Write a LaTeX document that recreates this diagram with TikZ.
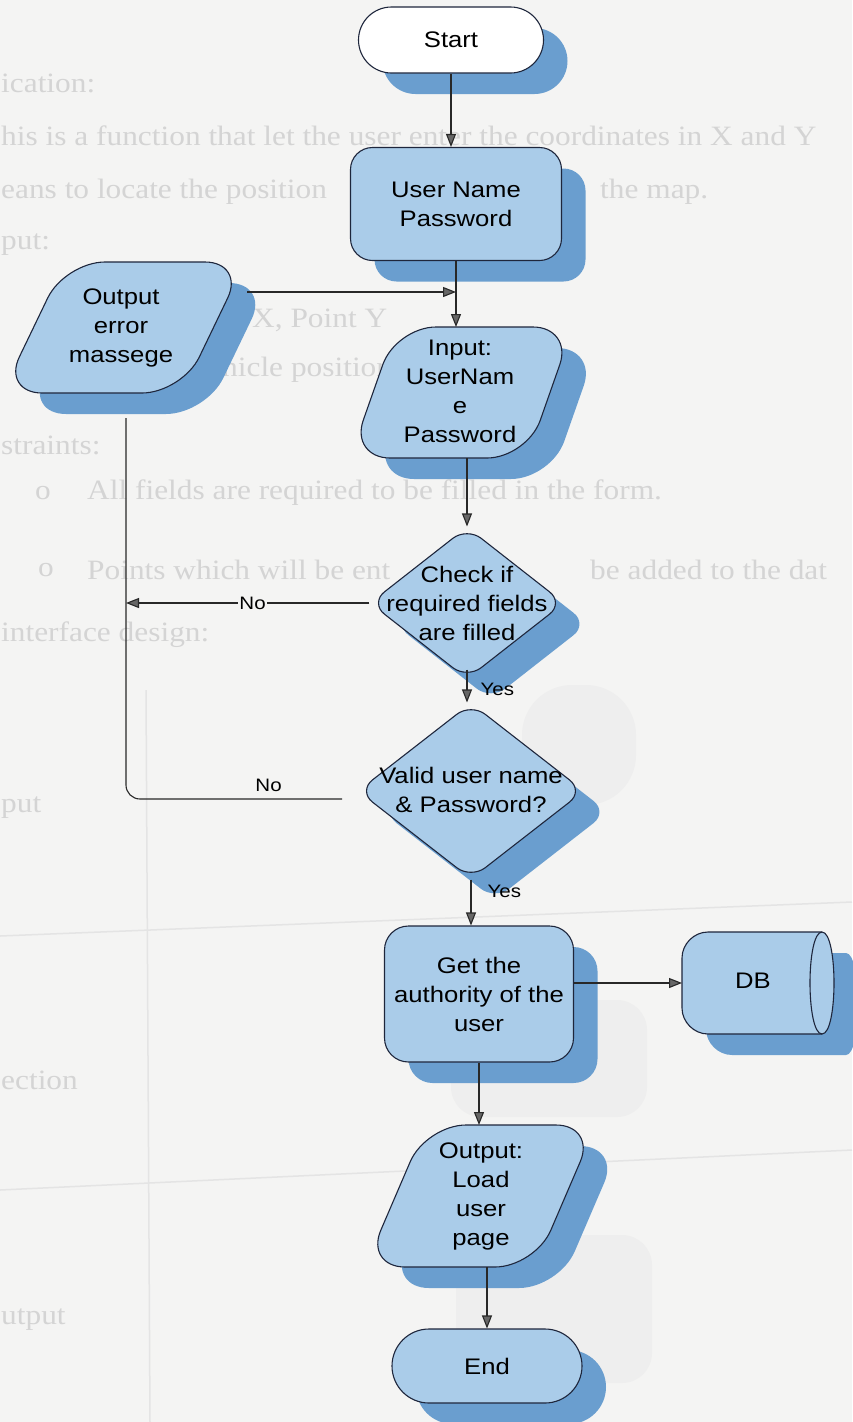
\documentclass[tikz,border=0pt]{standalone}
\usepackage{fontspec}
\setmainfont{Liberation Sans}
\newfontfamily\flowfont[FakeStretch=1.14]{Liberation Sans}
\newfontfamily\pagefont[FakeStretch=1.12]{Liberation Serif}
\usetikzlibrary{shapes.geometric,shadows,arrows.meta,calc}

\definecolor{pagebg}{RGB}{244,244,243}
\definecolor{ghostink}{RGB}{212,212,212}
\definecolor{ghostfill}{RGB}{238,238,238}
\definecolor{ghostrule}{RGB}{228,228,228}
\definecolor{boxfill}{RGB}{170,204,233}
\definecolor{boxshade}{RGB}{106,158,207}
\definecolor{boxedge}{RGB}{30,38,60}
\definecolor{wireink}{RGB}{40,40,40}

% slanted input/output box: centre x, centre y, width, height, slant
\newcommand\slantbox[5]{%
  \fill[boxshade, shift={(#1+24,#2+21)}, rounded corners=40pt]
    (-#3/2+#5,-#4/2) -- (#3/2,-#4/2) -- (#3/2-#5,#4/2) -- (-#3/2,#4/2) -- cycle;
  \filldraw[fill=boxfill, draw=boxedge, line width=1.1pt, shift={(#1,#2)}, rounded corners=40pt]
    (-#3/2+#5,-#4/2) -- (#3/2,-#4/2) -- (#3/2-#5,#4/2) -- (-#3/2,#4/2) -- cycle;
}

\begin{document}
\begin{tikzpicture}[x=1pt,y=-1pt,
  dropshade/.style={drop shadow={shadow xshift=24pt,shadow yshift=-21pt,fill=boxshade,opacity=1,draw=none}},
  box/.style={draw=boxedge,line width=1.1pt,fill=boxfill,dropshade,inner sep=0pt},
  proc/.style={box,rectangle,rounded corners=22pt},
  term/.style={box,rectangle},
  decide/.style={box,diamond,rounded corners=18pt},
  anchorbox/.style={inner sep=0pt,outer sep=0pt},
  words/.style={font=\flowfont\fontsize{22.5}{29}\selectfont,align=center,inner sep=0pt,text=black},
  tag/.style={font=\flowfont\fontsize{18}{20}\selectfont,inner sep=1pt,text=black},
  wire/.style={draw=wireink,line width=1.1pt},
  flow/.style={wire,-{Triangle[length=13pt,width=10pt,fill=black!60]}},
  ghost/.style={font=\pagefont\fontsize{28}{30}\selectfont,text=ghostink,anchor=west,inner sep=0pt},
]
% page
\fill[pagebg] (0,0) rectangle (852,1422);
\useasboundingbox (0,0) rectangle (852,1422);

% faint print showing through from the facing page
\fill[ghostfill, rounded corners=50pt] (522,685) rectangle (636,805);
\fill[ghostfill, rounded corners=30pt] (451,1000) rectangle (647,1117);
\fill[ghostfill, rounded corners=30pt] (456,1235) rectangle (652,1383);
\draw[ghostrule, line width=1.5pt] (146,690) -- (150,1422);
\draw[ghostrule, line width=1.5pt] (0,936) -- (852,902);
\draw[ghostrule, line width=1.5pt] (0,1190) -- (852,1150);

\node[ghost] (g1) at (1,83) {ication:};
\node[ghost] (g2) at (1,136) {his is a function that let the user enter the coordinates in X and Y};
\node[ghost] (g3a) at (1,192) {eans to locate the position};
\node[ghost] (g3b) at (600,192) {the map.};
\node[ghost] (g4) at (1,245) {put:};
\node[ghost] (g5) at (252,320) {X, Point Y};
\node[ghost] (g6) at (222,370) {hicle position};
\node[ghost] (g7) at (1,445) {straints:};
\node[ghost] (g8a) at (35,493) {o};
\node[ghost] (g8b) at (87,493) {All fields are required to be filled in the form.};
\node[ghost] (g9a) at (38,570) {o};
\node[ghost] (g9b) at (87,570) {Points which will be ent};
\node[ghost] (g9c) at (590,570) {be added to the dat};
\node[ghost] (g10) at (1,635) {interface design:};
\node[ghost] (g11) at (1,808) {put};
\node[ghost] (g12) at (1,1080) {ection};
\node[ghost] (g13) at (1,1320) {utput};

% flowchart shapes
\node[term, fill=white, rounded corners=33pt, minimum width=185pt, minimum height=66pt] (start) at (451,40) {};
\node[words] (start-text) at (start) {Start};

\node[proc, minimum width=211pt, minimum height=113pt] (uname) at (456,204) {};
\node[words] (uname-text) at (uname) {User Name\\Password};

\slantbox{123.5}{327.5}{243}{131}{63}
\node[anchorbox, minimum width=243pt, minimum height=131pt] (err) at (123.5,327.5) {};
\node[words] (err-text) at (121,328) {Output\\error\\massege};

\slantbox{461.5}{392.5}{223}{131}{46}
\node[anchorbox, minimum width=223pt, minimum height=131pt] (inp) at (461.5,392.5) {};
\node[words] (inp-text) at (460,391) {Input:\\UserNam\\e\\Password};

\node[decide, minimum width=194pt, minimum height=152pt] (check) at (467,603) {};
\node[words] (check-text) at (check) {Check if\\required fields\\are filled};

\node[decide, minimum width=226pt, minimum height=176pt] (valid) at (471,791) {};
\node[words] (valid-text) at (471,790) {Valid user name\\\& Password?};

\node[proc, rounded corners=24pt, minimum width=189pt, minimum height=136pt] (get) at (479,994) {};
\node[words] (get-text) at (get) {Get the\\authority of the\\user};

% database drum
\fill[boxshade, shift={(24,21)}] (822,932) -- (708,932) .. controls (694,932) and (682,944) .. (682,958) -- (682,1008) .. controls (682,1022) and (694,1034) .. (708,1034) -- (822,1034) .. controls (838,1034) and (838,932) .. (822,932) -- cycle;
\filldraw[fill=boxfill, draw=boxedge, line width=1.1pt] (822,932) -- (708,932) .. controls (694,932) and (682,944) .. (682,958) -- (682,1008) .. controls (682,1022) and (694,1034) .. (708,1034) -- (822,1034) .. controls (838,1034) and (838,932) .. (822,932) -- cycle;
\draw[boxedge, line width=1.1pt] (822,932) .. controls (806,932) and (806,1034) .. (822,1034);
\node[anchorbox, minimum width=152pt, minimum height=102pt] (db) at (758,983) {};
\node[words] (db-text) at (753,981) {DB};

\slantbox{480.5}{1196}{231}{142}{61}
\node[anchorbox, minimum width=231pt, minimum height=142pt] (out) at (480.5,1196) {};
\node[words] (out-text) at (481,1196) {Output:\\Load\\user\\page};

\node[term, rounded corners=37pt, minimum width=190pt, minimum height=74pt] (stop) at (487,1366) {};
\node[words] (stop-text) at (stop) {End};

% connectors
\coordinate (errexit) at (247,292);
\coordinate (errfoot) at (126,418);
\coordinate (validno) at (342,799);

\draw[flow] (start.south) -- (start.south |- uname.north);
\draw[flow] (uname.south) -- (uname.south |- inp.north);
\draw[flow] (errexit) -- (errexit -| uname.south);
\draw[flow] (check.north |- inp.south) -- (check.north);
\draw[flow] (check.west) -- node[tag, fill=pagebg, pos=.48] {No} (check.west -| errfoot);
\draw[flow] ([yshift=10pt]check.south) -- node[tag, anchor=west, xshift=12pt, pos=.6] {Yes} (check.south |- valid.north);
\draw[wire, rounded corners=14pt] (validno) -- node[tag, above=6pt, pos=.34] {No} (validno -| errfoot) -- (errfoot);
\draw[flow] (valid.south) -- node[tag, anchor=west, xshift=15pt, pos=.25] {Yes} (valid.south |- get.north);
\draw[flow] (get.east |- db.west) -- (db.west);
\draw[flow] (get.south) -- (get.south |- out.north);
\draw[flow] (stop.north |- out.south) -- (stop.north);
\end{tikzpicture}
\end{document}
